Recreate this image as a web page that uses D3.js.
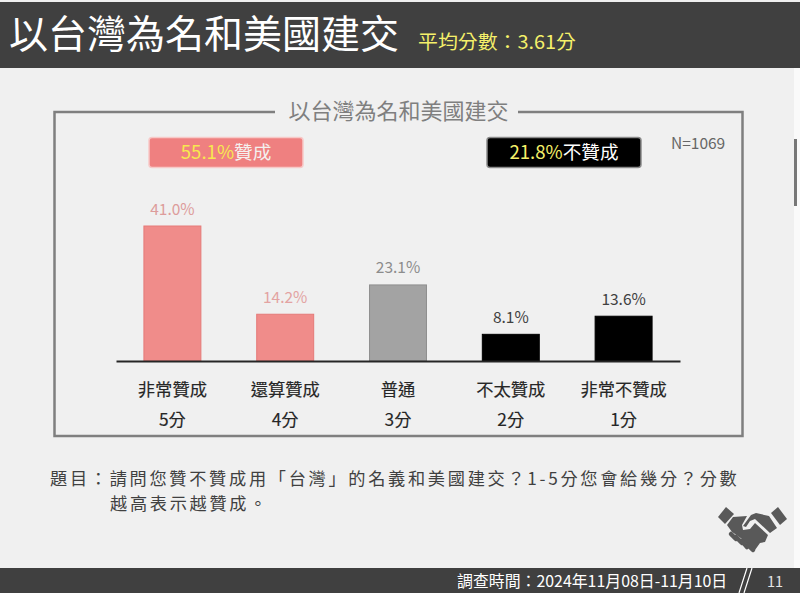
<!DOCTYPE html>
<html>
<head>
<meta charset="utf-8">
<script src="https://cdn.jsdelivr.net/npm/d3@7"></script>
<style>
  html, body { margin: 0; padding: 0; background: #f0f0f0; overflow: hidden; }
  text { font-family: "Noto Sans CJK TC", "Noto Sans", sans-serif; }
</style>
</head>
<body>
<div id="chart"></div>
<script>
const categories = ["非常贊成", "還算贊成", "普通", "不太贊成", "非常不贊成"];
const scores = ["5分", "4分", "3分", "2分", "1分"];
const values = [41.0, 14.2, 23.1, 8.1, 13.6];
const barColors = ["#f08c8a", "#f08c8a", "#a3a3a3", "#000000", "#000000"];
const barStrokes = ["#e57a78", "#e57a78", "#8f8f8f", "#000000", "#000000"];
const labelColors = ["#dd9c9b", "#e3a3a2", "#8c8c8c", "#404040", "#404040"];

const title = "以台灣為名和美國建交";
const avgText = "平均分數：3.61分";
const question = ["題目：請問您贊不贊成用「台灣」的名義和美國建交？1-5分您會給幾分？分數", "越高表示越贊成。"];
const footer = "調查時間：2024年11月08日-11月10日";

const width = 800, height = 593;
const margin = { left: 116, right: 120, top: 226, bottom: 232 };

const svg = d3.select("#chart").append("svg")
  .attr("width", width)
  .attr("height", height)
  .style("display", "block");

svg.append("rect").attr("width", width).attr("height", height).attr("fill", "#f0f0f0");

// header
svg.append("rect").attr("x", 0).attr("y", 2).attr("width", 800).attr("height", 66).attr("fill", "#404040");
svg.append("text").attr("x", 9).attr("y", 48)
  .attr("font-size", 39).attr("fill", "#fff").text(title);
svg.append("text").attr("x", 418).attr("y", 49)
  .attr("font-size", 19).attr("fill", "#f5f06a")
  .attr("textLength", 158).attr("lengthAdjust", "spacingAndGlyphs")
  .text(avgText);

// frame round the chart, open at the top for its title
const frame = d3.path();
frame.moveTo(275, 112);
frame.lineTo(54.5, 112);
frame.lineTo(54.5, 436);
frame.lineTo(742.5, 436);
frame.lineTo(742.5, 112);
frame.lineTo(518, 112);
svg.append("path").attr("d", frame.toString())
  .attr("fill", "none").attr("stroke", "#7f7f7f").attr("stroke-width", 2.5);
svg.append("text").attr("x", 398.5).attr("y", 119)
  .attr("text-anchor", "middle").attr("font-size", 22).attr("fill", "#7f7f7f").text(title);

// summary boxes
svg.append("rect").attr("x", 149).attr("y", 137.5).attr("width", 154).attr("height", 30).attr("rx", 3)
  .attr("fill", "#ef8080").attr("stroke", "#f7c9c8").attr("stroke-width", 1.5);
const agree = svg.append("text").attr("x", 226).attr("y", 159)
  .attr("text-anchor", "middle").attr("font-size", 18.6);
agree.append("tspan").attr("fill", "#f7e84f").text("55.1%");
agree.append("tspan").attr("fill", "#f4f0ee").text("贊成");

svg.append("rect").attr("x", 487).attr("y", 137.5).attr("width", 154).attr("height", 30).attr("rx", 3)
  .attr("fill", "#000").attr("stroke", "#8a8a8a").attr("stroke-width", 1.5);
const disagree = svg.append("text").attr("x", 564).attr("y", 159)
  .attr("text-anchor", "middle").attr("font-size", 18.6);
disagree.append("tspan").attr("fill", "#f5f06a").text("21.8%");
disagree.append("tspan").attr("fill", "#fff").text("不贊成");

svg.append("text").attr("x", 671).attr("y", 149)
  .attr("font-size", 15.5).attr("fill", "#666").text("N=1069");

// bars
const x = d3.scaleBand()
  .domain(categories)
  .range([margin.left, width - margin.right])
  .paddingInner(0.495)
  .paddingOuter(0.2475);

const y = d3.scaleLinear()
  .domain([0, 41])
  .range([height - margin.bottom, margin.top]);

svg.append("g")
  .selectAll("rect")
  .data(values)
  .join("rect")
  .attr("x", (d, i) => x(categories[i]))
  .attr("y", d => y(d))
  .attr("width", x.bandwidth())
  .attr("height", d => y(0) - y(d))
  .attr("fill", (d, i) => barColors[i])
  .attr("stroke", (d, i) => barStrokes[i]);

svg.append("g")
  .selectAll("text")
  .data(values)
  .join("text")
  .attr("x", (d, i) => x(categories[i]) + x.bandwidth() / 2)
  .attr("y", d => y(d) - 11.5)
  .attr("text-anchor", "middle")
  .attr("font-size", 15.5)
  .attr("fill", (d, i) => labelColors[i])
  .text(d => d.toFixed(1) + "%");

// axis, two rows of labels
const xAxis = g => g
  .attr("transform", `translate(0,${height - margin.bottom})`)
  .call(d3.axisBottom(x).tickSize(0).tickPadding(23))
  .call(g => g.select(".domain").attr("stroke", "#262626").attr("stroke-width", 2))
  .call(g => g.selectAll(".tick text")
    .attr("font-size", 17.3)
    .attr("fill", "#262626")
    .attr("stroke", "#262626")
    .attr("stroke-width", 0.15)
    .style("font-family", '"Noto Sans CJK TC", sans-serif'));

svg.append("g").call(xAxis);

svg.append("g")
  .selectAll("text")
  .data(scores)
  .join("text")
  .attr("x", (d, i) => x(categories[i]) + x.bandwidth() / 2)
  .attr("y", 426)
  .attr("text-anchor", "middle")
  .attr("font-size", 17.3)
  .attr("fill", "#262626")
  .attr("stroke", "#262626")
  .attr("stroke-width", 0.15)
  .text(d => d);

// question, letter spaced so the two lines keep clear of each other
svg.append("text").attr("x", 50).attr("y", 485)
  .attr("font-size", 17.2).attr("letter-spacing", 2.7).attr("fill", "#404040").text(question[0]);
svg.append("text").attr("x", 110).attr("y", 510)
  .attr("font-size", 17.2).attr("letter-spacing", 2.7).attr("fill", "#404040").text(question[1]);

// handshake icon
const hands = svg.append("g").attr("fill", "#595959").attr("transform", "translate(716,507)");
hands.append("path").attr("d", "M2,10 L10,0 L18,7 L9,17 Z");
hands.append("path").attr("d", "M55,6 L62,0 L71,12 L64,18 Z");
hands.append("path").attr("d", "M17,10 L31,9 L26,18 L27,23 L34,22 L39,16 L52,28 L49,35 L44,36 L39,43 L32,38 L26,32 L19,27 L16,25 L11,18 Z");
hands.append("path").attr("d", "M35,8 L40,6 L53,9 L61,21 L54,26 L39,12 L34,14 L30,20 L27,19 Z");
hands.selectAll("line")
  .data([[15, 27, 20, 32], [20, 30, 26, 36], [26, 34, 31, 40], [32, 38, 37, 43]])
  .join("line")
  .attr("x1", d => d[0]).attr("y1", d => d[1])
  .attr("x2", d => d[2]).attr("y2", d => d[3])
  .attr("stroke", "#595959").attr("stroke-width", 4.5).attr("stroke-linecap", "round");

// footer
svg.append("rect").attr("x", 0).attr("y", 568).attr("width", 800).attr("height", 25).attr("fill", "#404040");
svg.append("text").attr("x", 457).attr("y", 587)
  .attr("font-size", 15.9).attr("fill", "#fff").text(footer);
svg.append("path").attr("d", "M739,593 L747,568 M744,593 L752,568")
  .attr("stroke", "#fff").attr("stroke-width", 1.2).attr("fill", "none");
svg.append("text").attr("x", 767).attr("y", 587)
  .attr("font-size", 14.5).attr("fill", "#e6e6e6").text("11");

// scrollbar sliver on the right edge
svg.append("rect").attr("x", 794).attr("y", 68).attr("width", 6).attr("height", 500).attr("fill", "#fafafa");
svg.append("rect").attr("x", 794).attr("y", 139).attr("width", 3).attr("height", 67).attr("fill", "#777");
</script>
</body>
</html>
